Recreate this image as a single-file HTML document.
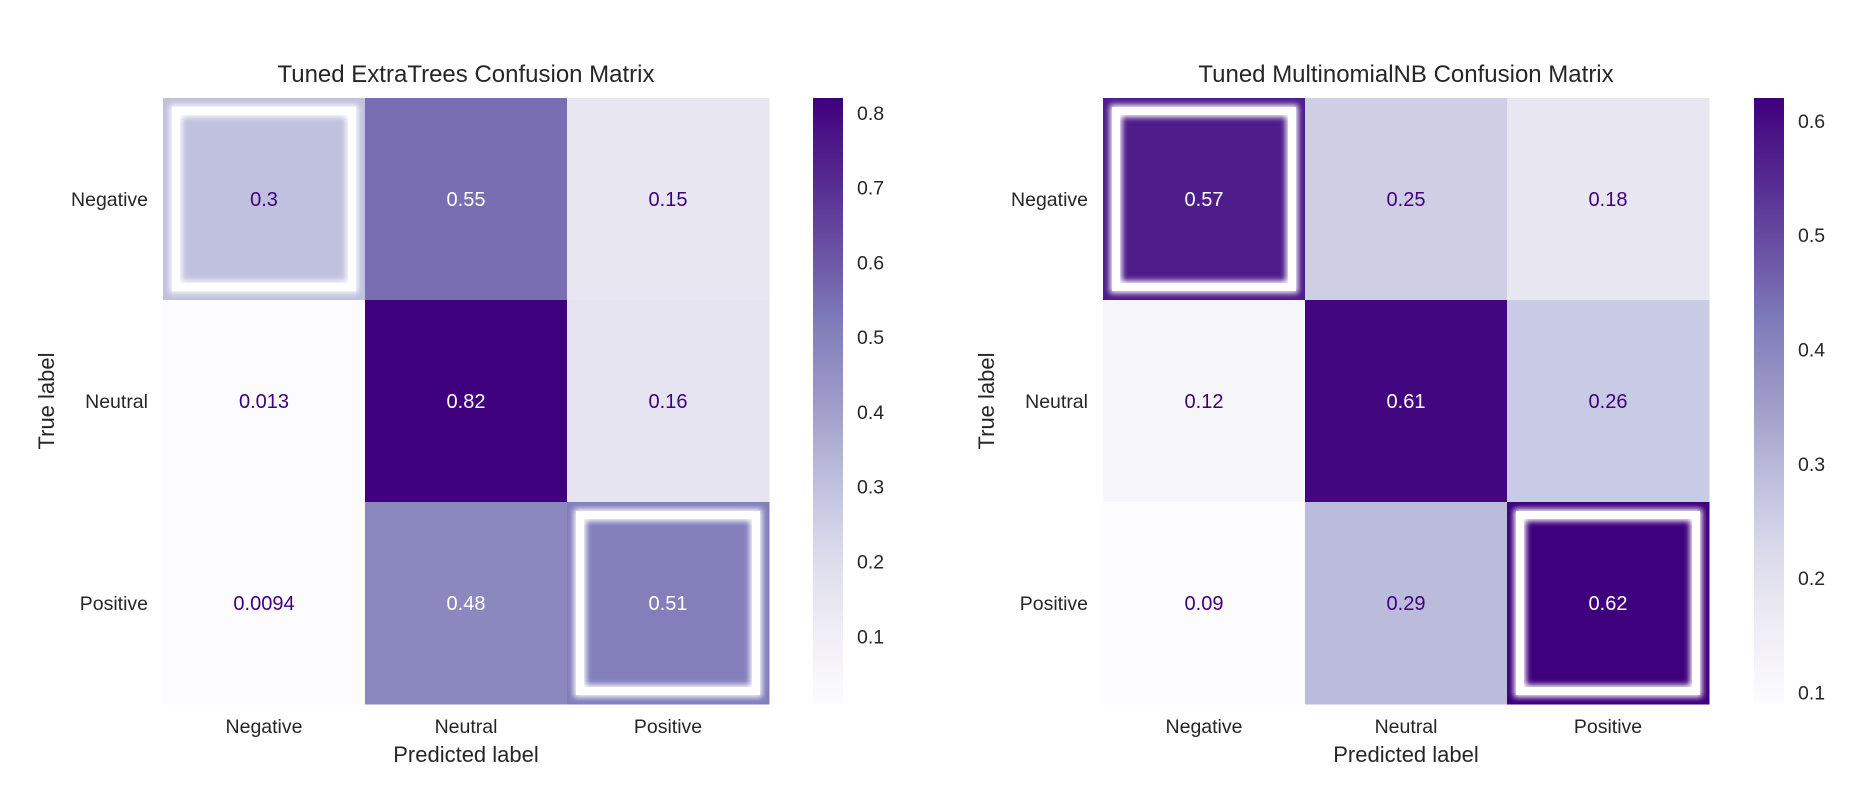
<!DOCTYPE html>
<html><head><meta charset="utf-8"><style>
html,body{margin:0;padding:0;background:#fff;}
svg text{font-family:"Liberation Sans",sans-serif;}
</style></head><body>
<svg id="fig" width="1872" height="803" xmlns="http://www.w3.org/2000/svg">
<defs>
<filter id="glow" x="-20%" y="-20%" width="140%" height="140%"><feGaussianBlur stdDeviation="3"/></filter>
</defs>
</svg>
<script>
const categories = ["Negative","Neutral","Positive"];
const etValues = [[0.3,0.55,0.15],[0.013,0.82,0.16],[0.0094,0.48,0.51]];
const nbValues = [[0.57,0.25,0.18],[0.12,0.61,0.26],[0.09,0.29,0.62]];
const etLabels = [["0.3","0.55","0.15"],["0.013","0.82","0.16"],["0.0094","0.48","0.51"]];
const nbLabels = [["0.57","0.25","0.18"],["0.12","0.61","0.26"],["0.09","0.29","0.62"]];
const etTicks = [0.1,0.2,0.3,0.4,0.5,0.6,0.7,0.8];
const nbTicks = [0.1,0.2,0.3,0.4,0.5,0.6];
const etHighlights = [[0,0],[2,2]];
const nbHighlights = [[0,0],[2,2]];

const NS="http://www.w3.org/2000/svg";
const svg=document.getElementById('fig');
const stops=["#fcfbfd","#efedf5","#dadaeb","#bcbddc","#9e9ac8","#807dba","#6a51a3","#54278f","#3f007d"];
function hex(h){return [1,3,5].map(i=>parseInt(h.substr(i,2),16));}
function purples(t){t=Math.max(0,Math.min(1,t));const p=t*8;const i=Math.min(7,Math.floor(p));const f=p-i;const a=hex(stops[i]),b=hex(stops[i+1]);return a.map((v,k)=>Math.round(v+(b[k]-v)*f));}
function el(tag,attrs,parent){const e=document.createElementNS(NS,tag);for(const k in attrs)e.setAttribute(k,attrs[k]);(parent||svg).appendChild(e);return e;}
function txt(s,attrs,parent){const e=el('text',attrs,parent);e.textContent=s;return e;}

let gid=0;
function drawChart(cfg){
  const g=el('g',{});
  
  
  const vmin=Math.min(...cfg.values.flat()),vmax=Math.max(...cfg.values.flat());
  const cw=cfg.w/3,ch=cfg.h/3;
  const xs=j=>cfg.x+j*cw, ys=i=>cfg.y+i*ch;
  const t=txt(cfg.title,{x:cfg.x+cfg.w/2,y:cfg.y-16,'text-anchor':'middle','font-size':24,fill:'#262626'},g);
  
  
  for(let i=0;i<3;i++)for(let j=0;j<3;j++){
    const v=cfg.values[i][j];const c=purples((v-vmin)/(vmax-vmin));
    const r=el('rect',{x:xs(j),y:ys(i),width:cw+0.5,height:ch+0.5,fill:`rgb(${c.join(',')})`},g);
    
    
  }
  cfg.highlights.forEach(([i,j])=>{
    const b=el('rect',{x:xs(j)+13,y:ys(i)+13,width:cw-26,height:ch-26,fill:'none',stroke:'#fff','stroke-width':12,filter:'url(#glow)'},g);
    
    
    const h=el('rect',{x:xs(j)+13,y:ys(i)+13,width:cw-26,height:ch-26,fill:'none',stroke:'#fff','stroke-width':8},g);
    
    
  });
  for(let i=0;i<3;i++)for(let j=0;j<3;j++){
    const v=cfg.values[i][j];const c=purples((v-vmin)/(vmax-vmin));
    const lum=0.299*c[0]+0.587*c[1]+0.114*c[2];
    const a=txt(cfg.labels[i][j],{x:xs(j)+cw/2,y:ys(i)+ch/2+7,'text-anchor':'middle','font-size':20,fill:lum<150?'#ffffff':'#3f007d'},g);
    
    
  }
  categories.forEach((c,k)=>{
    const yl=txt(c,{x:cfg.x-15,y:ys(k)+ch/2+7,'text-anchor':'end','font-size':19.5,fill:'#262626'},g);
    
    
    const xl=txt(c,{x:xs(k)+cw/2,y:cfg.y+cfg.h+29,'text-anchor':'middle','font-size':19.5,fill:'#262626'},g);
    
    
  });
  const xt=txt('Predicted label',{x:cfg.x+cfg.w/2,y:cfg.y+cfg.h+58,'text-anchor':'middle','font-size':22,fill:'#262626'},g);
  
  
  const yt=txt('True label',{x:0,y:0,'text-anchor':'middle','font-size':22,fill:'#262626',transform:`translate(${cfg.ytx},${cfg.y+cfg.h/2}) rotate(-90)`},g);
  
  
  const id='cb'+(gid++);
  const defs=svg.querySelector('defs');
  const lg=el('linearGradient',{id:id,x1:0,y1:1,x2:0,y2:0},defs);
  for(let k=0;k<=16;k++){const c=purples(k/16);el('stop',{offset:k/16,'stop-color':`rgb(${c.join(',')})`},lg);}
  const cb=el('rect',{x:cfg.cbx,y:cfg.y,width:30,height:cfg.h,fill:`url(#${id})`},g);
  
  
  const cy=v=>cfg.y+cfg.h-(v-vmin)/(vmax-vmin)*cfg.h;
  cfg.ticks.forEach(v=>{
    const tl=txt(v.toFixed(1),{x:cfg.cbx+44,y:cy(v)+7,'font-size':19.5,fill:'#262626'},g);
    
    
  });
}
drawChart({name:'extratrees-confusion-matrix',title:'Tuned ExtraTrees Confusion Matrix',values:etValues,labels:etLabels,ticks:etTicks,highlights:etHighlights,x:163,y:98,w:606,h:606,cbx:813,ytx:54});
drawChart({name:'multinomialnb-confusion-matrix',title:'Tuned MultinomialNB Confusion Matrix',values:nbValues,labels:nbLabels,ticks:nbTicks,highlights:nbHighlights,x:1103,y:98,w:606,h:606,cbx:1754,ytx:994});
</script>
</body></html>
